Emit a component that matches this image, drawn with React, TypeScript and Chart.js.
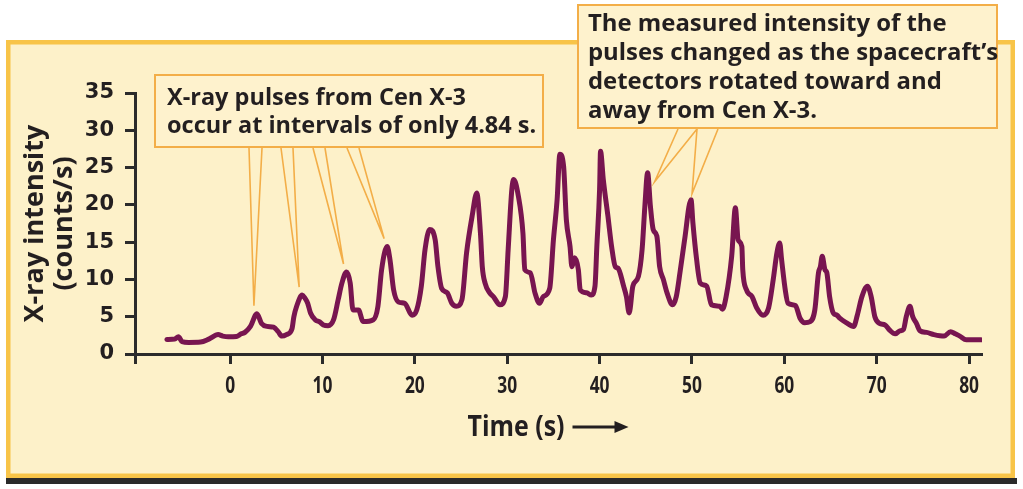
import React, { useEffect, useRef } from 'react';
import { Chart, registerables } from 'chart.js';

Chart.register(...registerables);

// ---- data ----
const timeSeconds = [
  -6.85, -6.0, -5.6, -5.2, -4.5, -3.2, -2.3, -1.3, -0.8, -0.2, 0.7, 1.2, 1.6, 2.2, 2.9, 3.4, 4.0, 4.7, 5.2, 5.6,
  6.1, 6.7, 6.9, 7.2, 7.8, 8.1, 8.4, 8.7, 9.2, 9.7, 10.1, 10.6, 11.2, 11.7, 12.1, 12.6, 13.0, 13.3, 13.9, 14.4,
  15.5, 16.0, 16.4, 17.0, 17.3, 17.7, 18.2, 18.9, 19.7, 20.2, 20.7, 21.1, 21.6, 22.2, 22.5, 22.9, 23.5, 24.0, 24.5, 25.1,
  25.6, 26.2, 26.7, 27.1, 27.3, 27.6, 28.1, 28.5, 29.2, 29.8, 30.1, 30.5, 30.7, 31.2, 31.7, 31.9, 32.5, 33.0, 33.5, 33.9,
  34.6, 35.0, 35.4, 35.7, 36.1, 36.4, 36.8, 37.0, 37.3, 37.7, 37.9, 38.6, 39.1, 39.5, 39.7, 40.0, 40.1, 40.4, 40.9, 41.3,
  41.7, 42.0, 42.6, 42.9, 43.2, 43.6, 44.2, 44.6, 44.9, 45.2, 45.5, 45.8, 46.2, 46.5, 46.9, 47.3, 47.9, 48.3, 48.7, 49.2,
  49.9, 50.1, 50.5, 50.9, 51.6, 52.1, 53.0, 53.3, 53.7, 54.3, 54.7, 55.0, 55.4, 55.5, 55.9, 56.5, 57.0, 57.7, 58.3, 58.8,
  59.2, 59.5, 59.7, 60.1, 60.4, 61.2, 61.7, 62.2, 62.8, 63.3, 63.7, 63.9, 64.1, 64.4, 64.6, 64.9, 65.3, 65.7, 66.0, 66.7,
  67.5, 67.9, 68.4, 69.0, 69.4, 69.8, 70.3, 70.9, 71.4, 72.0, 72.5, 72.9, 73.2, 73.6, 73.9, 74.3, 74.7, 75.4, 76.2, 77.3,
  78.0, 78.5, 79.0, 79.7, 81.3,
];
const intensity = [
  1.95, 2.0, 2.3, 1.65, 1.55, 1.6, 2.0, 2.6, 2.4, 2.3, 2.35, 2.7, 2.9, 3.7, 5.4, 4.1, 3.7, 3.6, 3.0, 2.4,
  2.6, 3.4, 5.0, 6.4, 7.9, 7.5, 6.8, 5.5, 4.6, 4.3, 3.9, 3.8, 4.6, 7.3, 9.5, 11.0, 9.5, 5.9, 5.9, 4.35,
  4.6, 6.4, 11.3, 14.4, 12.7, 8.6, 7.0, 6.8, 5.2, 5.9, 9.1, 14.0, 16.7, 15.3, 11.7, 8.8, 8.2, 6.8, 6.4, 7.3,
  13.6, 18.5, 21.6, 16.2, 11.7, 9.5, 8.2, 7.7, 6.6, 7.7, 14.0, 22.1, 23.4, 21.2, 16.2, 11.3, 10.9, 8.2, 6.8, 7.7,
  8.8, 15.3, 20.7, 26.8, 25.2, 18.0, 14.4, 11.7, 12.9, 11.3, 8.6, 8.2, 7.9, 9.1, 14.4, 22.1, 27.2, 23.4, 18.5, 14.4,
  11.7, 11.5, 9.1, 7.7, 5.5, 9.1, 10.4, 14.0, 19.8, 24.3, 19.8, 16.7, 15.8, 11.7, 10.0, 8.2, 6.6, 7.7, 10.9, 15.3,
  20.7, 17.6, 12.7, 9.5, 9.1, 6.6, 6.4, 6.0, 7.7, 13.1, 19.6, 15.3, 14.4, 11.3, 8.6, 7.7, 6.2, 5.2, 6.2, 10.0,
  13.6, 14.9, 12.7, 8.6, 6.8, 6.5, 4.8, 4.2, 4.35, 5.9, 10.9, 11.7, 13.1, 11.3, 10.9, 7.7, 5.5, 5.2, 4.8, 4.2,
  3.7, 5.2, 7.7, 9.1, 7.7, 5.0, 4.1, 3.9, 3.2, 2.7, 3.1, 3.3, 5.0, 6.4, 5.0, 4.1, 3.1, 2.9, 2.6, 2.4,
  3.0, 2.7, 2.4, 1.9, 1.9,
];
const xTickValues = [0, 10, 20, 30, 40, 50, 60, 70, 80];
const yTickValues = [0, 5, 10, 15, 20, 25, 30, 35];
const X_MIN = -10.3;
const X_MAX = 81.4;
const Y_MIN = 0;
const Y_MAX = 35;

const yTitleLines = ['X-ray intensity', '(counts/s)'];
const xTitle = 'Time (s)';
const pulseNote = ['X-ray pulses from Cen X-3', 'occur at intervals of only 4.84 s.'];
const rotationNote = [
  'The measured intensity of the',
  'pulses changed as the spacecraft\u2019s',
  'detectors rotated toward and',
  'away from Cen X-3.',
];
const pulsePeakTimes = [2.9, 7.8, 12.6, 17.0];
const rotationPeakTimes = [45.2, 49.9];

// ---- styles ----
const W = 1023;
const H = 489;
const INK = '#231f20';
const AXIS = '#2b2b2b';
const LINE = '#781550';
const PANEL_FILL = '#fdf1c9';
const PANEL_BORDER = '#f8c448';
const NOTE_FILL = '#fef2cd';
const NOTE_BORDER = '#f3ae48';
const SANS = "'Open Sans', 'Noto Sans', sans-serif";

function peakPixel(chart: any, t: number) {
  let best = 0;
  for (let i = 0; i < timeSeconds.length; i++) {
    if (Math.abs(timeSeconds[i] - t) < Math.abs(timeSeconds[best] - t)) best = i;
  }
  return {
    x: chart.scales.x.getPixelForValue(timeSeconds[best]),
    y: chart.scales.y.getPixelForValue(intensity[best]),
  };
}

function drawNote(ctx: CanvasRenderingContext2D, box: { l: number; t: number; r: number; b: number }, lines: string[], font: string, tx: number, baselines: number[]) {
  ctx.fillStyle = NOTE_FILL;
  ctx.fillRect(box.l, box.t, box.r - box.l, box.b - box.t);
  ctx.strokeStyle = NOTE_BORDER;
  ctx.lineWidth = 2;
  ctx.strokeRect(box.l, box.t, box.r - box.l, box.b - box.t);
  ctx.fillStyle = INK;
  ctx.font = font;
  ctx.textAlign = 'left';
  ctx.textBaseline = 'alphabetic';
  lines.forEach((s, i) => ctx.fillText(s, tx, baselines[i]));
}

function drawWedge(ctx: CanvasRenderingContext2D, x1: number, x2: number, y0: number, tip: { x: number; y: number }) {
  ctx.strokeStyle = NOTE_BORDER;
  ctx.lineWidth = 1.6;
  ctx.beginPath();
  ctx.moveTo(x1, y0);
  ctx.lineTo(tip.x, tip.y);
  ctx.lineTo(x2, y0);
  ctx.stroke();
}

// condensed text: draw with horizontal squeeze
function condensedText(ctx: CanvasRenderingContext2D, s: string, cx: number, baseline: number, sx: number) {
  ctx.save();
  ctx.translate(cx, baseline);
  ctx.scale(sx, 1);
  ctx.textAlign = 'center';
  ctx.textBaseline = 'alphabetic';
  ctx.fillText(s, 0, 0);
  ctx.restore();
}

const decorPlugin = {
  id: 'decor',
  beforeDraw(chart: any) {
    const ctx: CanvasRenderingContext2D = chart.ctx;
    ctx.save();
    ctx.fillStyle = '#ffffff';
    ctx.fillRect(0, 0, W, H);
    ctx.fillStyle = PANEL_FILL;
    ctx.fillRect(6, 40, 1009, 438);
    ctx.strokeStyle = PANEL_BORDER;
    ctx.lineWidth = 4.5;
    ctx.strokeRect(8.25, 42.25, 1004.5, 433.5);
    ctx.fillStyle = '#2a2a2a';
    ctx.fillRect(6, 478, 1011, 6);
    ctx.restore();
  },
  afterDraw(chart: any) {
    const ctx: CanvasRenderingContext2D = chart.ctx;
    const area = chart.chartArea;
    ctx.save();

    // x tick labels (condensed bold)
    ctx.fillStyle = INK;
    ctx.font = `bold 23.5px ${SANS}`;
    xTickValues.forEach((v) => {
      condensedText(ctx, String(v), chart.scales.x.getPixelForValue(v), 393, 0.74);
    });

    // y axis title (two rotated lines)
    const cy = (area.top + area.bottom) / 2;
    ctx.font = `bold 27px ${SANS}`;
    ctx.textAlign = 'center';
    ctx.textBaseline = 'middle';
    [35, 64].forEach((cx, i) => {
      ctx.save();
      ctx.translate(cx, cy);
      ctx.rotate(-Math.PI / 2);
      ctx.fillText(yTitleLines[i], 0, 0);
      ctx.restore();
    });

    // x axis title with arrow
    ctx.font = `bold 28px ${SANS}`;
    const tw = ctx.measureText(xTitle).width;
    const sx = 97 / tw;
    const titleCx = 516;
    condensedText(ctx, xTitle, titleCx, 436, sx);
    const ax0 = titleCx + 97 / 2 + 8;
    const ax1 = ax0 + 56;
    const ay = 427;
    ctx.strokeStyle = INK;
    ctx.lineWidth = 3;
    ctx.beginPath();
    ctx.moveTo(ax0, ay);
    ctx.lineTo(ax1 - 10, ay);
    ctx.stroke();
    ctx.beginPath();
    ctx.moveTo(ax1, ay);
    ctx.lineTo(ax1 - 14, ay - 6);
    ctx.lineTo(ax1 - 14, ay + 6);
    ctx.closePath();
    ctx.fill();

    // pulse note + pointers
    drawNote(ctx, { l: 155, t: 75, r: 543, b: 147 }, pulseNote, `bold 23.5px ${SANS}`, 167, [105, 133]);
    const bases1 = [[249, 262], [281, 293], [313, 325], [347, 359]];
    pulsePeakTimes.forEach((t, i) => {
      const p = peakPixel(chart, t);
      drawWedge(ctx, bases1[i][0], bases1[i][1], 148, { x: p.x - 3, y: p.y - 8 });
    });

    // rotation note + pointers
    drawNote(ctx, { l: 578, t: 5, r: 997, b: 128 }, rotationNote, `bold 23.9px ${SANS}`, 588, [31, 60, 89, 118]);
    const bases2 = [[678, 697], [697, 718]];
    const offs2 = [[7, 9], [1, -6]];
    rotationPeakTimes.forEach((t, i) => {
      const p = peakPixel(chart, t);
      drawWedge(ctx, bases2[i][0], bases2[i][1], 129, { x: p.x + offs2[i][0], y: p.y + offs2[i][1] });
    });

    ctx.restore();
  },
};

export default function App() {
  const canvasRef = useRef<HTMLCanvasElement | null>(null);

  useEffect(() => {
    document.body.style.margin = '0';
    const canvas = canvasRef.current;
    if (!canvas) return;
    const chart = new Chart(canvas, {
      type: 'line',
      data: {
        datasets: [
          {
            data: timeSeconds.map((t, i) => ({ x: t, y: intensity[i] })),
            borderColor: LINE,
            borderWidth: 5,
            pointRadius: 0,
            cubicInterpolationMode: 'monotone',
            borderJoinStyle: 'round',
            borderCapStyle: 'round',
            fill: false,
          },
        ],
      },
      options: {
        responsive: false,
        animation: false,
        devicePixelRatio: 1,
        layout: { padding: { top: 93, right: 41, left: 0, bottom: 0 } },
        plugins: { legend: { display: false }, tooltip: { enabled: false } },
        scales: {
          x: {
            type: 'linear',
            min: X_MIN,
            max: X_MAX,
            afterFit: (s: any) => {
              s.height = 135;
            },
            afterBuildTicks: (s: any) => {
              s.ticks = [X_MIN, ...xTickValues].map((v) => ({ value: v }));
            },
            ticks: {
              autoSkip: false,
              maxRotation: 0,
              callback: () => '',
            },
            grid: { drawOnChartArea: false, drawTicks: true, tickLength: 10, tickWidth: 3, tickColor: AXIS },
            border: { display: true, color: AXIS, width: 3 },
          },
          y: {
            min: Y_MIN,
            max: Y_MAX,
            afterFit: (s: any) => {
              s.width = 135;
            },
            afterBuildTicks: (s: any) => {
              s.ticks = yTickValues.map((v) => ({ value: v }));
            },
            ticks: {
              padding: 11,
              color: INK,
              font: { family: "'DejaVu Sans', sans-serif", size: 21, weight: 'bold' },
              callback: (v: any) => String(v),
            },
            grid: { drawOnChartArea: false, drawTicks: true, tickLength: 10, tickWidth: 3, tickColor: AXIS },
            border: { display: true, color: AXIS, width: 3 },
          },
        },
      },
      plugins: [decorPlugin],
    } as any);
    return () => chart.destroy();
  }, []);

  return (
    <div style={{ width: W, height: H }}>
      <canvas ref={canvasRef} width={W} height={H} style={{ display: 'block', width: W, height: H }} />
    </div>
  );
}
